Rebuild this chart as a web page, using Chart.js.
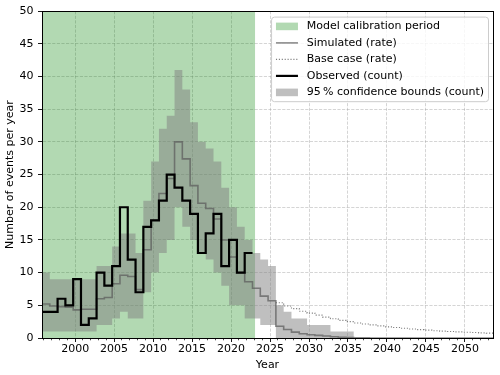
<!DOCTYPE html>
<html><head><meta charset="utf-8">
<script src="https://cdn.jsdelivr.net/npm/chart.js@4.4.1/dist/chart.umd.min.js"></script>
<style>html,body{margin:0;padding:0;background:#fff}canvas{display:block}</style>
</head><body>
<canvas id="c" width="500" height="375"></canvas>
<script>
// ---- data (water years; each bin spans year-0.25 .. year+0.75) ----
const yearsObserved = [1996,1997,1998,1999,2000,2001,2002,2003,2004,2005,2006,2007,2008,2009,2010,2011,2012,2013,2014,2015,2016,2017,2018,2019,2020,2021,2022];
const observed = [4,4,6,5,9,2,3,10,8,11,20,12,7,17,18,21,25,23,21,19,13,16,19,11,15,10,13];

const yearsBand = [1996,1997,1998,1999,2000,2001,2002,2003,2004,2005,2006,2007,2008,2009,2010,2011,2012,2013,2014,2015,2016,2017,2018,2019,2020,2021,2022,2023,2024,2025,2026,2027,2028,2029,2030,2031,2032,2033,2034,2035];
const bandUpper = [10,9,9,9,9,9,9,11,11,14,16,16,13,21,27,32,34,41,38,33,30,29,27,23,20,17,15,13,12,11,5,4,3,3,2,2,2,1,1,1];
const bandLower = [1,1,1,1,1,1,1,2,2,3,4,3,3,7,10,13,15,20,17,15,13,12,10,8,5,5,3,3,2,2,0,0,0,0,0,0,0,0,0,0];

const yearsSim = [1996,1997,1998,1999,2000,2001,2002,2003,2004,2005,2006,2007,2008,2009,2010,2011,2012,2013,2014,2015,2016,2017,2018,2019,2020,2021,2022,2023,2024,2025,2026,2027,2028,2029,2030,2031,2032,2033,2034,2035,2036,2037,2038,2039,2040,2041,2042,2043,2044,2045,2046,2047,2048,2049,2050,2051,2052,2053];
const simulated = [5.2,4.9,4.8,4.7,4.3,4.4,4.4,6.0,6.2,8.3,9.6,9.4,7.4,13.5,18.0,22.1,24.4,30.0,27.4,23.3,20.6,19.8,18.2,15.0,12.4,10.0,8.6,7.6,6.4,5.7,1.8,1.3,0.9,0.65,0.5,0.4,0.3,0.2,0.12,0.06,0.02,0.015,0.01,0.008,0.006,0.005,0.004,0.003,0.003,0.002,0.002,0.002,0.001,0.001,0.001,0.001,0.001,0.001];

const yearsBase = [2026,2027,2028,2029,2030,2031,2032,2033,2034,2035,2036,2037,2038,2039,2040,2041,2042,2043,2044,2045,2046,2047,2048,2049,2050,2051,2052,2053];
const baseCase = [5.4,4.9,4.5,4.1,3.8,3.5,3.2,2.95,2.7,2.5,2.3,2.15,2.0,1.85,1.7,1.6,1.48,1.38,1.28,1.2,1.12,1.05,0.99,0.93,0.88,0.83,0.79,0.75];

const calibStart = 1995.75, calibEnd = 2023.1;
const xTickLabels = [2000,2005,2010,2015,2020,2025,2030,2035,2040,2045,2050];
const yTickLabels = [0,5,10,15,20,25,30,35,40,45,50];
const X_MIN = 1995.75, X_MAX = 2053.6, Y_MIN = 0, Y_MAX = 50;
const BIN_OFFSET = -0.25;

// ---- styling ----
const FONT = {family: 'DejaVu Sans', size: 11};
const GREEN_FILL = 'rgba(0,128,0,0.3)';
const BAND_FILL = 'rgba(128,128,128,0.5)';
const SIM_COLOR = 'rgba(90,90,90,0.7)';
const BASE_COLOR = 'rgba(110,110,110,0.9)';
const GRID_COLOR = 'rgba(150,150,150,0.45)';

function steps(yrs, vals) {
  const pts = yrs.map((yr, i) => ({x: yr + BIN_OFFSET, y: vals[i]}));
  pts.push({x: yrs[yrs.length - 1] + BIN_OFFSET + 1, y: vals[vals.length - 1]});
  return pts;
}
const minorTicks = [];
for (let v = Math.ceil(X_MIN); v <= X_MAX; v++) if (v % 5 !== 0) minorTicks.push(v);

const datasets = [
  {label: 'Observed (count)', data: steps(yearsObserved, observed), stepped: 'before',
   borderColor: '#000', borderWidth: 2.2, pointRadius: 0, fill: false,
   legend: {kind: 'line', color: '#000', width: 2.2}},
  {label: 'Simulated (rate)', data: steps(yearsSim, simulated), stepped: 'before',
   borderColor: SIM_COLOR, borderWidth: 1.6, pointRadius: 0, fill: false,
   legend: {kind: 'line', color: SIM_COLOR, width: 1.6}},
  {label: 'Base case (rate)', data: steps(yearsBase, baseCase), stepped: 'before',
   borderColor: BASE_COLOR, borderWidth: 1.1, borderDash: [1.1, 1.8], pointRadius: 0, fill: false,
   legend: {kind: 'line', color: BASE_COLOR, width: 1.1, dash: [1.1, 1.8]}},
  {label: 'lower', data: steps(yearsBand, bandLower), stepped: 'before',
   borderColor: 'transparent', borderWidth: 0, pointRadius: 0, fill: false},
  {label: '95\u2009% confidence bounds (count)', data: steps(yearsBand, bandUpper), stepped: 'before',
   borderColor: 'transparent', borderWidth: 0, pointRadius: 0, fill: {target: 3}, backgroundColor: BAND_FILL,
   legend: {kind: 'patch', color: BAND_FILL}},
  {label: 'Model calibration period', data: [{x: calibStart, y: Y_MAX}, {x: calibEnd, y: Y_MAX}],
   borderColor: 'transparent', borderWidth: 0, pointRadius: 0, fill: 'origin', backgroundColor: GREEN_FILL,
   legend: {kind: 'patch', color: GREEN_FILL}}
];
const legendOrder = [5, 1, 2, 0, 4];

const framePlugin = {
  id: 'frame',
  afterDatasetsDraw(chart) {
    const {ctx, chartArea: a} = chart;
    const al = v => Math.round(v - 0.5) + 0.5;
    ctx.save();
    ctx.strokeStyle = '#000'; ctx.lineWidth = 1;
    ctx.strokeRect(al(a.left), al(a.top), al(a.right) - al(a.left), al(a.bottom) - al(a.top));
    ctx.restore();
  }
};

const boxLegend = {
  id: 'boxLegend',
  afterDraw(chart) {
    const {ctx, chartArea} = chart;
    const entries = legendOrder.map(i => ({label: chart.data.datasets[i].label, ...chart.data.datasets[i].legend}));
    ctx.save();
    ctx.font = FONT.size + 'px "' + FONT.family + '"';
    const pad = 4.4, handleW = 22, gap = 8.8, rowH = 16.5, edge = 9.3;
    const textW = Math.max(...entries.map(e => ctx.measureText(e.label).width));
    const w = pad + handleW + gap + textW + pad;
    const h = edge * 2 + rowH * (entries.length - 1);
    const x0 = chartArea.right - 4.5 - w, y0 = chartArea.top + 6;
    const r = 3;
    ctx.beginPath();
    ctx.moveTo(x0 + r, y0); ctx.lineTo(x0 + w - r, y0); ctx.arcTo(x0 + w, y0, x0 + w, y0 + r, r);
    ctx.lineTo(x0 + w, y0 + h - r); ctx.arcTo(x0 + w, y0 + h, x0 + w - r, y0 + h, r);
    ctx.lineTo(x0 + r, y0 + h); ctx.arcTo(x0, y0 + h, x0, y0 + h - r, r);
    ctx.lineTo(x0, y0 + r); ctx.arcTo(x0, y0, x0 + r, y0, r);
    ctx.closePath();
    ctx.fillStyle = 'rgba(255,255,255,0.8)'; ctx.fill();
    ctx.strokeStyle = '#cccccc'; ctx.lineWidth = 1; ctx.stroke();
    entries.forEach((e, i) => {
      const cy = y0 + edge + i * rowH;
      const hx = x0 + pad;
      if (e.kind === 'patch') {
        ctx.fillStyle = e.color; ctx.fillRect(hx, cy - 3.8, handleW, 7.6);
      } else {
        ctx.strokeStyle = e.color; ctx.lineWidth = e.width; ctx.setLineDash(e.dash || []);
        ctx.beginPath(); ctx.moveTo(hx, cy); ctx.lineTo(hx + handleW, cy); ctx.stroke(); ctx.setLineDash([]);
      }
      ctx.fillStyle = '#000'; ctx.textBaseline = 'middle'; ctx.textAlign = 'left';
      ctx.fillText(e.label, hx + handleW + gap, cy);
    });
    ctx.restore();
  }
};

new Chart(document.getElementById('c'), {
  type: 'line',
  data: {datasets: datasets.map(d => Object.assign({xAxisID: 'x', yAxisID: 'y'}, d))},
  options: {
    responsive: false, animation: false, devicePixelRatio: 1,
    layout: {padding: {top: 9, right: 7, left: 0, bottom: 0}},
    plugins: {legend: {display: false}, tooltip: {enabled: false}},
    scales: {
      x: {type: 'linear', position: 'bottom', weight: 1, min: X_MIN, max: X_MAX,
        afterBuildTicks: s => { s.ticks = xTickLabels.map(v => ({value: v})); },
        afterFit: s => { s.height = 37; },
        ticks: {font: FONT, color: '#000', padding: 1, maxRotation: 0, autoSkip: false, callback: v => String(v)},
        grid: {color: GRID_COLOR, lineWidth: 0.9, tickLength: 4, tickColor: '#000', tickWidth: 0.9},
        border: {display: true, color: '#000', width: 1, dash: [3.2, 1.4]},
        title: {display: true, text: 'Year', font: FONT, color: '#000', padding: {top: 0, bottom: 2.9}}
      },
      xMinor: {type: 'linear', position: 'bottom', weight: 0, min: X_MIN, max: X_MAX,
        afterBuildTicks: s => { s.ticks = minorTicks.map(v => ({value: v})); },
        afterFit: s => { s.height = 0; },
        ticks: {display: false, autoSkip: false},
        grid: {drawOnChartArea: false, drawTicks: true, tickLength: 2.3, tickColor: '#000', tickWidth: 0.7},
        border: {display: false}
      },
      y: {type: 'linear', position: 'left', min: Y_MIN, max: Y_MAX,
        afterBuildTicks: s => { s.ticks = yTickLabels.map(v => ({value: v})); },
        afterFit: s => { s.width = 42; },
        ticks: {font: FONT, color: '#000', padding: 4.5, callback: v => String(v)},
        grid: {color: GRID_COLOR, lineWidth: 0.9, tickLength: 4, tickColor: '#000', tickWidth: 0.9},
        border: {display: true, color: '#000', width: 1, dash: [3.2, 1.4]},
        title: {display: true, text: 'Number of events per year', font: FONT, color: '#000', padding: {top: 3.4, bottom: 0}}
      }
    }
  },
  plugins: [framePlugin, boxLegend]
});
</script>
</body></html>
